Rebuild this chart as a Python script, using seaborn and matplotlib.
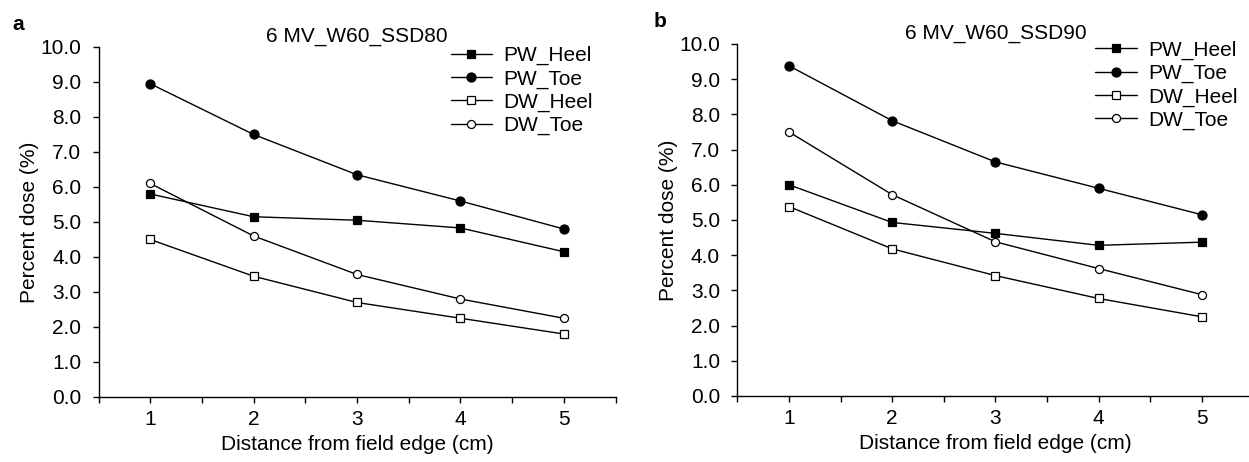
import pandas as pd
import matplotlib
matplotlib.use('Agg')
import matplotlib.pyplot as plt
import seaborn as sns
from matplotlib.ticker import MultipleLocator, FormatStrFormatter

# distance from field edge (cm)
distance = [1, 2, 3, 4, 5]

# panel a: 6 MV_W60_SSD80
a_pw_heel = [5.8, 5.15, 5.05, 4.83, 4.15]
a_pw_toe = [8.95, 7.5, 6.35, 5.6, 4.8]
a_dw_heel = [4.5, 3.45, 2.7, 2.25, 1.8]
a_dw_toe = [6.1, 4.6, 3.5, 2.8, 2.25]

# panel b: 6 MV_W60_SSD90
b_pw_heel = [6.0, 4.93, 4.62, 4.28, 4.37]
b_pw_toe = [9.38, 7.82, 6.65, 5.9, 5.15]
b_dw_heel = [5.38, 4.18, 3.42, 2.77, 2.25]
b_dw_toe = [7.5, 5.72, 4.38, 3.62, 2.88]

series_names = ['PW_Heel', 'PW_Toe', 'DW_Heel', 'DW_Toe']
panel_titles = ['6 MV_W60_SSD80', '6 MV_W60_SSD90']
panel_letters = ['a', 'b']

# marker, face colour, size
STYLES = {
    'PW_Heel': ('s', 'black', 5.5),
    'PW_Toe': ('o', 'black', 6.5),
    'DW_Heel': ('s', 'white', 5.2),
    'DW_Toe': ('o', 'white', 5.8),
}

sns.set_style('ticks')
plt.rcParams['font.family'] = ['Liberation Sans', 'DejaVu Sans']
plt.rcParams['text.color'] = 'black'
plt.rcParams['axes.labelcolor'] = 'black'
plt.rcParams['xtick.color'] = 'black'
plt.rcParams['ytick.color'] = 'black'


def make_df(values):
    rows = []
    for name, vals in zip(series_names, values):
        for d, v in zip(distance, vals):
            rows.append({'series': name, 'distance': d, 'dose': v})
    return pd.DataFrame(rows)


panels = [
    make_df([a_pw_heel, a_pw_toe, a_dw_heel, a_dw_toe]),
    make_df([b_pw_heel, b_pw_toe, b_dw_heel, b_dw_toe]),
]

fig = plt.figure(figsize=(12.49, 4.62), dpi=100)
ax_pos = [[0.0789, 0.1407, 0.4139, 0.7576], [0.5904, 0.1429, 0.4131, 0.7619]]
title_y = [1.029, 1.031]
legend_pos = [(0.681, 1.003), (0.693, 1.01)]
letter_pos = [(0.0096, 0.946), (0.5236, 0.9545)]

for i, df in enumerate(panels):
    ax = fig.add_axes(ax_pos[i])
    for name in series_names:
        marker, face, ms = STYLES[name]
        sub = df[df['series'] == name]
        sns.lineplot(data=sub, x='distance', y='dose', ax=ax, color='black',
                     linewidth=1.0, marker=marker, markersize=ms,
                     markerfacecolor=face, markeredgecolor='black',
                     markeredgewidth=0.9, label=name)
    ax.set_xlim(0.5, 5.5)
    ax.set_ylim(0, 10)
    ax.xaxis.set_major_locator(MultipleLocator(1))
    ax.xaxis.set_minor_locator(MultipleLocator(0.5))
    ax.yaxis.set_major_locator(MultipleLocator(1))
    ax.yaxis.set_major_formatter(FormatStrFormatter('%.1f'))
    ax.tick_params(axis='both', which='major', labelsize=15, length=4.5,
                   width=1, direction='out', color='black')
    ax.tick_params(axis='y', which='major', pad=8)
    ax.tick_params(axis='x', which='major', pad=5)
    ax.tick_params(axis='x', which='minor', length=4.5, width=1)
    sns.despine(ax=ax)
    for s in ['left', 'bottom']:
        ax.spines[s].set_color('black')
        ax.spines[s].set_linewidth(1.0)
    ax.set_xlabel('Distance from field edge (cm)', fontsize=15, labelpad=4)
    ax.set_ylabel('Percent dose (%)', fontsize=15, labelpad=1)
    ax.text(0.5, title_y[i], panel_titles[i],
            transform=ax.transAxes, ha='center', va='center', fontsize=15)
    ax.legend(loc='upper left', bbox_to_anchor=legend_pos[i], frameon=False,
              fontsize=15, handlelength=2.0, handletextpad=0.55,
              labelspacing=0.2, borderaxespad=0, borderpad=0)
    fig.text(letter_pos[i][0], letter_pos[i][1], panel_letters[i],
             fontsize=15, fontweight='bold', ha='left', va='center')

fig.savefig('out.png', dpi=100)
